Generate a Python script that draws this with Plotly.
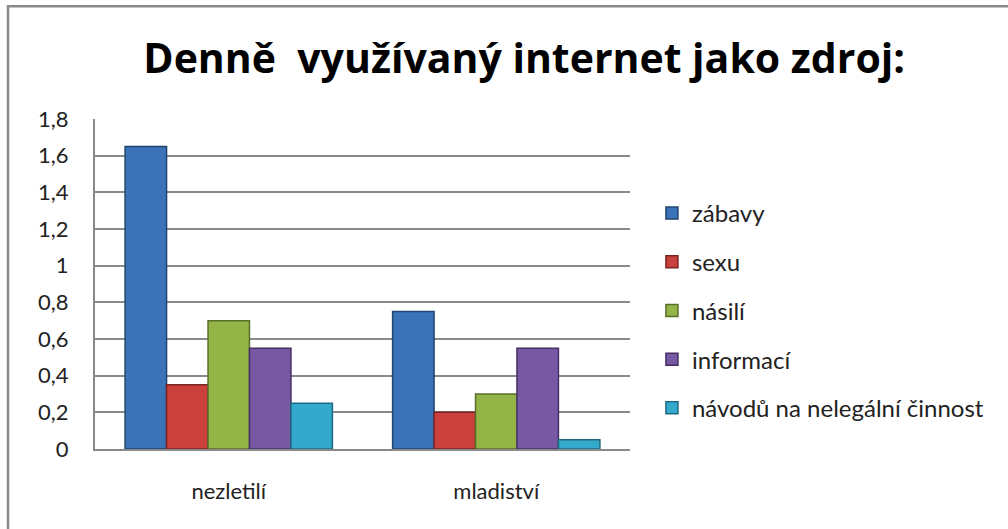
import plotly.graph_objects as go

categories = ["nezletilí", "mladiství"]
series_names = ["zábavy", "sexu", "násilí", "informací", "návodů na nelegální činnost"]
zabavy = [1.65, 0.75]
sexu = [0.35, 0.20]
nasili = [0.70, 0.30]
informaci = [0.55, 0.55]
navodu = [0.25, 0.05]
y_ticks = [0, 0.2, 0.4, 0.6, 0.8, 1.0, 1.2, 1.4, 1.6, 1.8]
y_tick_labels = ["0", "0,2", "0,4", "0,6", "0,8", "1", "1,2", "1,4", "1,6", "1,8"]

values = [zabavy, sexu, nasili, informaci, navodu]
fills = ["#3B73B9", "#C9403C", "#93B446", "#7658A3", "#33AACB"]
lines = ["#22446E", "#7A2523", "#5A6E2A", "#452F66", "#1E6A80"]

fig = go.Figure()
for name, vals, fc, lc in zip(series_names, values, fills, lines):
    fig.add_trace(go.Bar(
        x=categories, y=vals, name=name, legendgroup=name,
        marker=dict(color=fc, line=dict(color=lc, width=1.5)),
    ))

fig.update_layout(
    width=1008, height=529,
    margin=dict(l=95, r=378, t=119, b=80),
    paper_bgcolor="white", plot_bgcolor="white",
    barmode="group", bargap=0.225, bargroupgap=0,
    font=dict(family="Lato, Open Sans, sans-serif", color="#222"),
    title=dict(text="<b>Denně  využívaný internet jako zdroj:</b>",
               x=0.52, xanchor="center", y=0.889, yanchor="middle",
               font=dict(size=41, color="black", family="Open Sans, Lato, sans-serif")),
    legend=dict(x=1.041, xanchor="left", y=0.782, yanchor="top",
                traceorder="grouped", tracegroupgap=14.5,
                font=dict(size=24, color="#222"),
                bgcolor="rgba(0,0,0,0)"),
    showlegend=True,
    shapes=[dict(type="rect", xref="paper", yref="paper",
                 x0=-0.1626, x1=1.8, y0=-0.4, y1=1.342,
                 line=dict(color="#8a8a8a", width=2.5), fillcolor="rgba(0,0,0,0)",
                 layer="below")],
)
fig.update_xaxes(showline=True, linecolor="#8a8a8a", linewidth=2,
                 tickfont=dict(size=22, color="#222"), ticks="", ticklabelstandoff=22)
fig.update_yaxes(range=[0, 1.8], tickvals=y_ticks, ticktext=y_tick_labels,
                 showgrid=True, gridcolor="#8a8a8a", gridwidth=1.5,
                 showline=True, linecolor="#8a8a8a", linewidth=2,
                 tickfont=dict(size=22, color="#222"), ticks="", ticklabelstandoff=20,
                 zeroline=False)

fig.write_html("out.html", config={"displayModeBar": False},
               post_script="document.body.style.margin='0';")
